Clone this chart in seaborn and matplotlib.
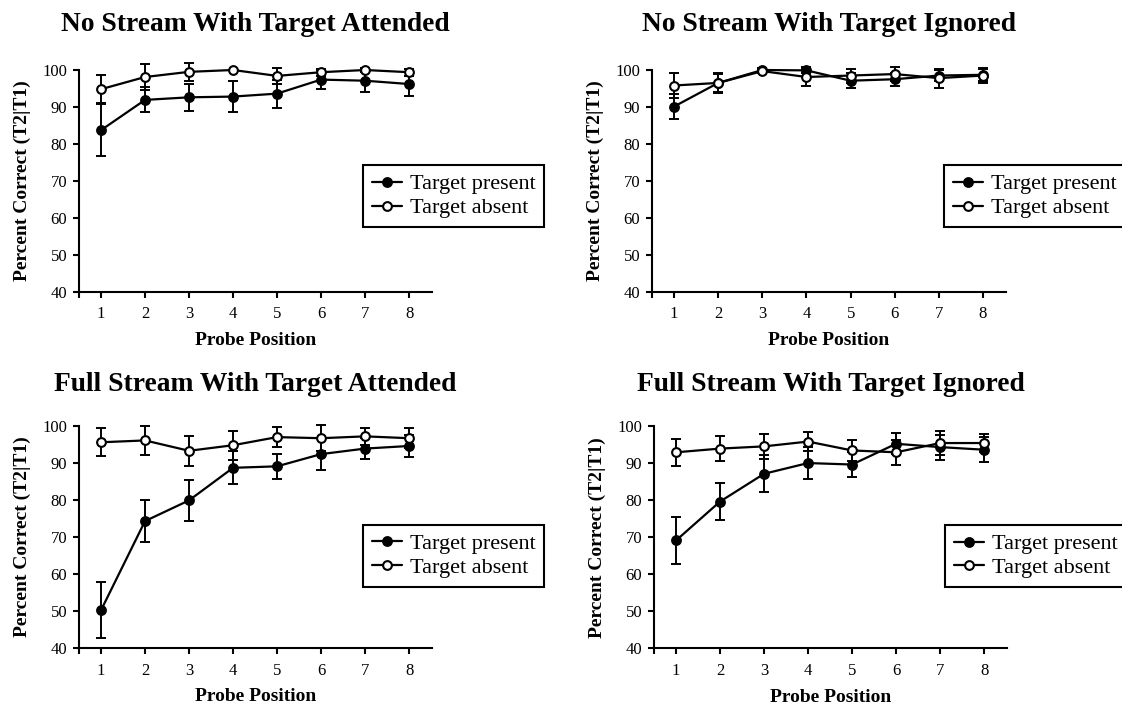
import numpy as np
import pandas as pd
import matplotlib
matplotlib.use("Agg")
import matplotlib.pyplot as plt
import seaborn as sns

# ---------------- data ----------------
positions = [1, 2, 3, 4, 5, 6, 7, 8]
titles = ["No Stream With Target Attended", "No Stream With Target Ignored",
          "Full Stream With Target Attended", "Full Stream With Target Ignored"]
series_labels = ["Target present", "Target absent"]

ns_att_present = [83.7, 91.9, 92.6, 92.8, 93.6, 97.4, 97.1, 96.2]
ns_att_present_err = [7.0, 3.4, 3.6, 4.2, 3.8, 2.6, 3.0, 3.2]
ns_att_absent = [94.8, 98.1, 99.5, 100.0, 98.4, 99.4, 100.0, 99.4]
ns_att_absent_err = [3.8, 3.6, 2.4, 0.0, 2.1, 1.0, 0.5, 1.0]

ns_ign_present = [90.1, 96.5, 100.0, 99.9, 97.1, 97.5, 98.5, 98.7]
ns_ign_present_err = [3.4, 2.5, 0.5, 0.8, 2.0, 1.8, 1.5, 1.7]
ns_ign_absent = [95.8, 96.5, 99.7, 98.1, 98.5, 98.9, 97.8, 98.5]
ns_ign_absent_err = [3.4, 2.6, 0.5, 2.3, 1.9, 1.8, 2.6, 2.1]

fs_att_present = [50.2, 74.3, 79.9, 88.7, 89.1, 92.4, 93.9, 94.6]
fs_att_present_err = [7.6, 5.7, 5.5, 4.5, 3.3, 4.3, 2.8, 2.9]
fs_att_absent = [95.6, 96.1, 93.3, 94.8, 97.0, 96.7, 97.2, 96.7]
fs_att_absent_err = [3.8, 3.9, 4.0, 3.9, 2.6, 3.5, 2.3, 2.7]

fs_ign_present = [69.1, 79.6, 87.1, 90.0, 89.6, 95.2, 94.3, 93.6]
fs_ign_present_err = [6.4, 4.9, 5.0, 4.3, 3.3, 2.8, 3.4, 3.4]
fs_ign_absent = [92.9, 93.9, 94.5, 95.8, 93.4, 92.9, 95.4, 95.4]
fs_ign_absent_err = [3.6, 3.4, 3.4, 2.5, 2.8, 3.4, 3.3, 2.5]

yticks = [40, 50, 60, 70, 80, 90, 100]
xlabel = "Probe Position"
ylabel = "Percent Correct (T2|T1)"

panels = [
    (ns_att_present, ns_att_present_err, ns_att_absent, ns_att_absent_err),
    (ns_ign_present, ns_ign_present_err, ns_ign_absent, ns_ign_absent_err),
    (fs_att_present, fs_att_present_err, fs_att_absent, fs_att_absent_err),
    (fs_ign_present, fs_ign_present_err, fs_ign_absent, fs_ign_absent_err),
]

# ---------------- style ----------------
sns.set_style("ticks")
plt.rcParams["font.family"] = ["Liberation Serif", "DejaVu Serif"]
plt.rcParams["axes.linewidth"] = 1.5
plt.rcParams["xtick.major.width"] = 1.5
plt.rcParams["ytick.major.width"] = 1.5
plt.rcParams["xtick.color"] = "black"
plt.rcParams["ytick.color"] = "black"
plt.rcParams["axes.edgecolor"] = "black"
plt.rcParams["text.color"] = "black"
plt.rcParams["axes.labelcolor"] = "black"

W, H = 1122, 704
fig = plt.figure(figsize=(W / 100, H / 100), dpi=100)

# axes boxes in pixels: left, top, right, bottom
boxes = [(79, 70, 432, 291.5), (652, 70, 1006, 291.5),
         (79, 426, 432, 648), (654, 426, 1007, 648.3)]
title_pads = [28, 28, 25, 25]
legend_anchor = [(0.805, 0.571), (0.825, 0.571), (0.805, 0.555), (0.825, 0.555)]

for i, (box, (pres, pres_err, abs_, abs_err)) in enumerate(zip(boxes, panels)):
    l, t, r, b = box
    ax = fig.add_axes([l / W, 1 - b / H, (r - l) / W, (b - t) / H])

    df = pd.DataFrame({"pos": positions * 2,
                       "val": pres + abs_,
                       "err": pres_err + abs_err,
                       "series": [series_labels[0]] * 8 + [series_labels[1]] * 8})

    for j, s in enumerate(series_labels):
        d = df[df["series"] == s]
        eb = ax.errorbar(d["pos"], d["val"], yerr=d["err"], fmt="none",
                         ecolor="black", elinewidth=1.4, capsize=3.8,
                         capthick=1.4, zorder=2)
        for ch in eb.get_children():
            ch.set_clip_on(False)

    for j, s in enumerate(series_labels):
        d = df[df["series"] == s]
        sns.lineplot(data=d, x="pos", y="val", ax=ax, color="black",
                     linewidth=1.6, marker="o", markersize=6.3,
                     markerfacecolor="black" if j == 0 else "white",
                     markeredgecolor="black", markeredgewidth=1.5,
                     label=s, clip_on=False, zorder=3 + j, legend=False)

    ax.set_xlim(0.5, 8.52)
    ax.set_ylim(40, 100)
    ax.set_xticks([0.5] + positions)
    ax.set_xticklabels([""] + [str(p) for p in positions])
    ax.set_yticks(yticks)
    ax.set_yticklabels([str(v) for v in yticks])
    ax.tick_params(axis="both", direction="out", length=4.5, labelsize=12,
                   colors="black")
    ax.tick_params(axis="x", pad=6)
    ax.tick_params(axis="y", pad=4)
    sns.despine(ax=ax)

    ax.set_xlabel(xlabel, fontsize=14, fontweight="bold", labelpad=7)
    ax.set_ylabel(ylabel, fontsize=14, fontweight="bold", labelpad=8)
    ax.set_title(titles[i], fontsize=19.8, fontweight="bold", pad=title_pads[i])

    handles, labels = ax.get_legend_handles_labels()
    leg = ax.legend(handles, labels, loc="upper left",
                    bbox_to_anchor=legend_anchor[i], borderaxespad=0,
                    fontsize=16, frameon=True, fancybox=False, shadow=False,
                    framealpha=1, edgecolor="black", borderpad=0.4,
                    labelspacing=0.15, handlelength=1.35, handletextpad=0.35)
    leg.get_frame().set_linewidth(1.5)

fig.savefig("out.png", dpi=100)
